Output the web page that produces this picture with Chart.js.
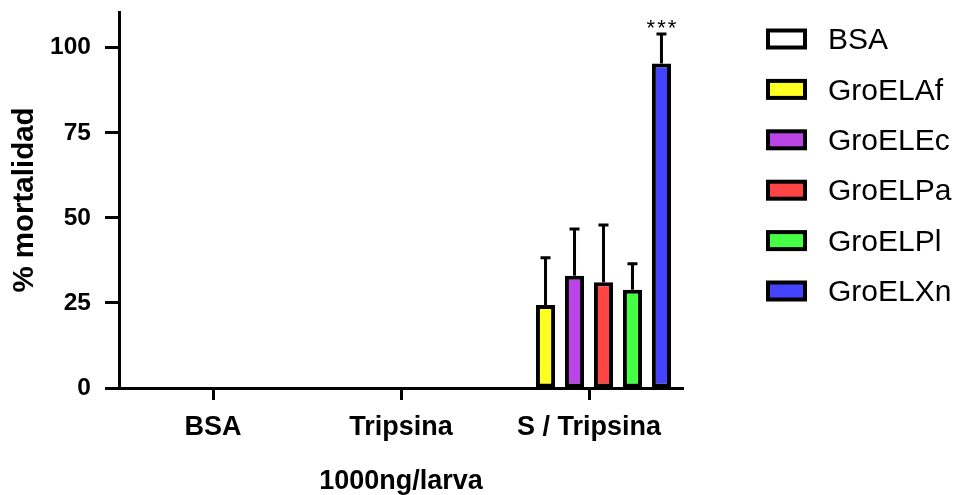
<!DOCTYPE html>
<html>
<head>
<meta charset="utf-8">
<script src="https://cdn.jsdelivr.net/npm/chart.js@4.4.0/dist/chart.umd.min.js"></script>
<style>
    html, body { margin: 0; padding: 0; background: #ffffff; }
    #wrap { width: 958px; height: 495px; }
</style>
</head>
<body>
<div id="wrap"><canvas id="mortChart" width="958" height="495"></canvas></div>
<script>
// Data
const categories = ['BSA', 'Tripsina', 'S / Tripsina'];
const seriesNames = ['BSA', 'GroELAf', 'GroELEc', 'GroELPa', 'GroELPl', 'GroELXn'];
const seriesColors = ['#ffffff', '#ffff22', '#bb44e6', '#ff4444', '#44ff44', '#4444ff'];

const bsaValues = [0, 0, 0];
const groelAfValues = [0, 0, 24.4];
const groelEcValues = [0, 0, 33.0];
const groelPaValues = [0, 0, 31.1];
const groelPlValues = [0, 0, 28.9];
const groelXnValues = [0, 0, 95.4];

// upper error (SD) for each bar
const bsaErrors = [0, 0, 0];
const groelAfErrors = [0, 0, 13.9];
const groelEcErrors = [0, 0, 13.7];
const groelPaErrors = [0, 0, 16.8];
const groelPlErrors = [0, 0, 7.6];
const groelXnErrors = [0, 0, 8.6];

// significance marks per series, per category
const groelXnSignif = ['', '', '***'];

const yTicks = [0, 25, 50, 75, 100];

const FONT = "'Liberation Sans', Arial, sans-serif";

const seriesValues = [bsaValues, groelAfValues, groelEcValues, groelPaValues, groelPlValues, groelXnValues];
const seriesErrors = [bsaErrors, groelAfErrors, groelEcErrors, groelPaErrors, groelPlErrors, groelXnErrors];
const seriesSignif = [[], [], [], [], [], groelXnSignif];

// Error bars (upper only, with cap) + significance stars
const errorBarPlugin = {
    id: 'errorBars',
    afterDatasetsDraw(chart) {
        const ctx = chart.ctx;
        const yScale = chart.scales.y;
        chart.data.datasets.forEach((ds, di) => {
            const meta = chart.getDatasetMeta(di);
            meta.data.forEach((bar, i) => {
                const err = ds.errors[i];
                const val = ds.data[i];
                const yTop = yScale.getPixelForValue(val + err);
                if (err > 0) {
                    ctx.save();
                    ctx.strokeStyle = '#000';
                    ctx.lineWidth = 3;
                    ctx.beginPath();
                    ctx.moveTo(bar.x, bar.y);
                    ctx.lineTo(bar.x, yTop);
                    ctx.moveTo(bar.x - 5, yTop);
                    ctx.lineTo(bar.x + 5, yTop);
                    ctx.stroke();
                    ctx.restore();
                }
                const mark = ds.signif[i];
                if (mark) {
                    ctx.save();
                    ctx.fillStyle = '#000';
                    ctx.font = '22px ' + FONT;
                    ctx.letterSpacing = '2px';
                    ctx.textAlign = 'center';
                    ctx.textBaseline = 'alphabetic';
                    ctx.fillText(mark, bar.x + 1, yTop + 1);
                    ctx.restore();
                }
            });
        });
    }
};

// Legend drawn on the right like the original figure
const sideLegendPlugin = {
    id: 'sideLegend',
    afterDraw(chart) {
        const ctx = chart.ctx;
        const boxX = 768, boxW = 37, boxH = 17;
        const firstY = 39, step = 50.4;
        chart.data.datasets.forEach((ds, i) => {
            const cy = firstY + i * step;
            ctx.save();
            ctx.fillStyle = ds.backgroundColor;
            ctx.strokeStyle = '#000';
            ctx.lineWidth = 4;
            ctx.fillRect(boxX, cy - boxH / 2, boxW, boxH);
            ctx.strokeRect(boxX, cy - boxH / 2, boxW, boxH);
            ctx.fillStyle = '#000';
            ctx.font = '30px ' + FONT;
            ctx.textAlign = 'left';
            ctx.textBaseline = 'middle';
            ctx.fillText(ds.label, 828, cy + 2);
            ctx.restore();
        });
    }
};

const datasets = seriesNames.map((name, i) => ({
    label: name,
    data: seriesValues[i],
    errors: seriesErrors[i],
    signif: seriesSignif[i],
    backgroundColor: seriesColors[i],
    borderColor: '#000000',
    borderWidth: 4,
    borderSkipped: false,
    barPercentage: 0.66,
    categoryPercentage: 0.925
}));

const ctx = document.getElementById('mortChart').getContext('2d');
new Chart(ctx, {
    type: 'bar',
    data: {
        labels: categories,
        datasets: datasets
    },
    options: {
        responsive: false,
        animation: false,
        layout: {
            padding: { top: 12, right: 275, left: 0, bottom: 0 }
        },
        plugins: {
            legend: { display: false },
            tooltip: { enabled: false }
        },
        scales: {
            x: {
                afterFit: (scale) => {
                    scale.height = 107;
                    scale.paddingLeft = 0;
                    scale.paddingRight = 0;
                },
                grid: {
                    offset: false,
                    drawOnChartArea: false,
                    drawTicks: true,
                    tickLength: 12,
                    tickWidth: 3,
                    tickColor: '#000'
                },
                border: { display: true, width: 3, color: '#000' },
                ticks: {
                    color: '#000',
                    padding: 11,
                    font: { family: FONT, size: 27, weight: 'bold' }
                },
                title: {
                    display: true,
                    text: '1000ng/larva',
                    color: '#000',
                    padding: { top: 0, bottom: 0 },
                    font: { family: FONT, size: 27, weight: 'bold', lineHeight: 1 }
                }
            },
            y: {
                min: 0,
                max: 110.5,
                afterFit: (scale) => {
                    scale.width = 119;
                    scale.paddingTop = 0;
                    scale.paddingBottom = 0;
                },
                afterBuildTicks: (scale) => {
                    scale.ticks = yTicks.map(v => ({ value: v }));
                },
                grid: {
                    drawOnChartArea: false,
                    drawTicks: true,
                    tickLength: 14,
                    tickWidth: 3,
                    tickColor: '#000'
                },
                border: { display: true, width: 3, color: '#000' },
                ticks: {
                    color: '#000',
                    padding: 14,
                    font: { family: FONT, size: 24.5, weight: 'bold' }
                },
                title: {
                    display: true,
                    text: '% mortalidad',
                    color: '#000',
                    padding: { top: 7, bottom: 0 },
                    font: { family: FONT, size: 29.5, weight: 'bold', lineHeight: 1.2 }
                }
            }
        }
    },
    plugins: [errorBarPlugin, sideLegendPlugin]
});
</script>
</body>
</html>
